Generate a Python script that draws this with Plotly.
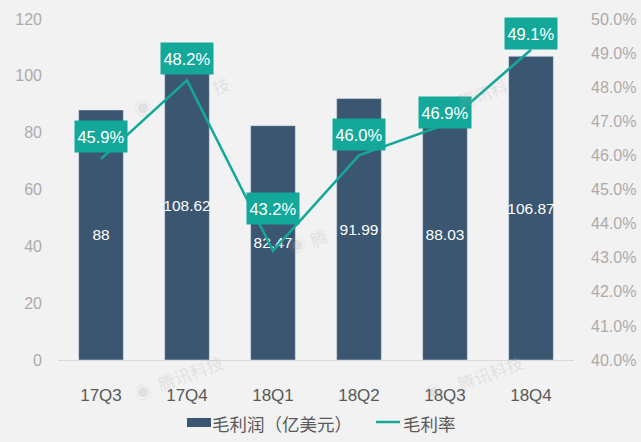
import plotly.graph_objects as go

quarters = ['17Q3', '17Q4', '18Q1', '18Q2', '18Q3', '18Q4']
gross_profit = [88, 108.62, 82.47, 91.99, 88.03, 106.87]
gross_margin = [45.9, 48.2, 43.2, 46.0, 46.9, 49.1]
left_ticks = [0, 20, 40, 60, 80, 100, 120]
right_ticks = [40, 41, 42, 43, 44, 45, 46, 47, 48, 49, 50]

W, H = 641, 442
LEFT, RIGHT, TOP, BOTTOM = 58, 574, 19, 360
BG = '#f2f2f2'
BAR = '#3b5670'
LINE = '#14a89b'
GREY = '#aeaaaa'
SANS = 'Liberation Sans, Arial, sans-serif'
CJK = 'Noto Sans CJK SC, sans-serif'

# how far each margin box sits above its point, px
label_shift = [22, 22, 42, 21, 12, 16]


# paper coords run over the plot area, not the page
def px_x(px):
    return (px - LEFT) / (RIGHT - LEFT)


def px_y(py):
    return (BOTTOM - py) / (BOTTOM - TOP)


fig = go.Figure()
fig.add_trace(go.Bar(
    name='毛利润（亿美元）',
    x=quarters,
    y=gross_profit,
    width=0.52,
    marker=dict(color=BAR),
    text=[str(v) for v in gross_profit],
    textposition='inside',
    insidetextanchor='middle',
    textangle=0,
    textfont=dict(color='white', size=15.5, family=SANS),
    constraintext='none',
))
fig.add_trace(go.Scatter(
    name='毛利率',
    x=quarters,
    y=gross_margin,
    yaxis='y2',
    mode='lines',
    line=dict(color=LINE, width=2.5),
))

# margin labels, boxed on top of the line
for q, m, shift in zip(quarters, gross_margin, label_shift):
    fig.add_annotation(
        x=q, y=m, yref='y2', yshift=shift,
        text=f'{m:.1f}%', showarrow=False,
        font=dict(color='white', size=16.5, family=SANS),
        bgcolor=LINE, width=52, height=31, borderpad=0,
    )


def page_text(px, py, txt, **kw):
    fig.add_annotation(x=px_x(px), y=px_y(py), xref='paper', yref='paper',
                       xanchor='center', yanchor='middle',
                       text=txt, showarrow=False, **kw)


# faint site watermark, only the parts the bars don't hide
for px, py, txt in [(142, 107, '◉'), (220, 85, '技'), (482, 93, '腾讯科'),
                    (296, 244, '◉'), (318, 237, '腾'),
                    (142, 391, '◉'), (190, 372, '腾讯科技'),
                    (433, 391, '◉'), (490, 372, '腾讯科技')]:
    page_text(px, py, txt, textangle=-20,
              font=dict(color='rgba(170,170,170,0.25)', size=17, family=CJK))

# legend by hand, plotly's bar swatch is too small here
fig.add_shape(type='rect', xref='paper', yref='paper',
              x0=px_x(187), x1=px_x(211), y0=px_y(427), y1=px_y(418),
              fillcolor=BAR, line_width=0)
fig.add_shape(type='line', xref='paper', yref='paper',
              x0=px_x(376), x1=px_x(400), y0=px_y(422), y1=px_y(422),
              line=dict(color=LINE, width=2.5))
page_text(282, 423, '毛利润（亿美元）', font=dict(size=17.5, color='#595959', family=CJK))
page_text(429, 423, '毛利率', font=dict(size=17.5, color='#595959', family=CJK))

fig.update_layout(
    width=W, height=H,
    autosize=False,
    paper_bgcolor=BG,
    plot_bgcolor=BG,
    margin=dict(l=LEFT, r=W - RIGHT, t=TOP, b=H - BOTTOM),
    showlegend=False,
    xaxis=dict(
        type='category',
        automargin=False,
        showgrid=False,
        showline=True,
        linecolor='#d9d9d9',
        linewidth=1,
        ticks='',
        ticklabelstandoff=20,
        tickfont=dict(size=17, color='#595959', family=SANS),
    ),
    yaxis=dict(
        range=[0, 120],
        automargin=False,
        tickvals=left_ticks,
        showgrid=False,
        zeroline=False,
        ticklabelstandoff=15,
        tickfont=dict(size=16, color=GREY, family=SANS),
    ),
    yaxis2=dict(
        range=[40, 50],
        automargin=False,
        tickvals=right_ticks,
        ticktext=[f'{v:.1f}%' for v in right_ticks],
        overlaying='y',
        side='right',
        showgrid=False,
        zeroline=False,
        ticklabelstandoff=16,
        tickfont=dict(size=16, color=GREY, family=SANS),
    ),
)

# the page's default body margin would push the chart 8px in
fig.write_html('out.html', config=dict(displayModeBar=False),
               post_script="document.body.style.margin = '0';")
